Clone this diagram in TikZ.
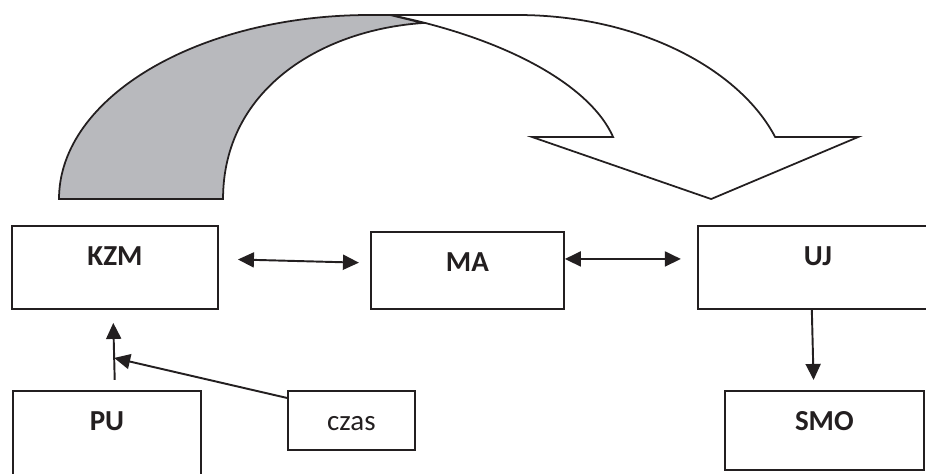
\documentclass[tikz,border=0pt]{standalone}
\usepackage{fontspec}
\setmainfont{Carlito}
\usetikzlibrary{positioning, arrows.meta, calc}
\definecolor{ribgray}{HTML}{B8B9BD}
\definecolor{inkblack}{HTML}{231F20}

\begin{document}
\begin{tikzpicture}[
          box/.style={draw=inkblack, line width=1.1pt, inner sep=0pt, text=inkblack, font=\fontsize{16.5}{19}\selectfont\bfseries, text height=0.8cm, anchor=north west},
          arr/.style={draw=inkblack, line width=1.1pt, -{Triangle[length=3.2mm, width=3mm]}},
          twoway/.style={arr, {Triangle[length=3.2mm, width=3mm]}-{Triangle[length=3.2mm, width=3mm]}}]
        \useasboundingbox (0,0) rectangle (18.52,-9.48);
        \clip (0,0) rectangle (18.52,-9.48);
        \node[box, minimum width=4.12cm, text depth=0.86cm] (kzm) at (0.22,-4.5) {KZM};
        \node[box, minimum width=3.86cm, text depth=0.74cm, right=3.02cm of kzm.north east, anchor=north west, yshift=-0.12cm] (ma) {MA};
        \node[box, minimum width=4.8cm, text depth=0.86cm, right=2.64cm of ma.north east, anchor=north west, yshift=0.12cm] (uj) {UJ};
        \node[box, minimum width=3.76cm, text depth=1.4cm, below=1.6cm of kzm.south west, anchor=north west, xshift=0.02cm] (pu) {PU};
        \node[box, minimum width=2.54cm, text depth=0.38cm, font=\fontsize{16.5}{19}\selectfont, right=1.7cm of pu.north east, anchor=north west] (czas) {czas};
        \node[box, minimum width=3.98cm, text depth=0.78cm, below=1.6cm of uj.south west, anchor=north west, xshift=0.54cm] (smo) {SMO};
        \draw[twoway, shorten <=0.38cm, shorten >=0.22cm] ([yshift=0.17cm]kzm.east) -- ([yshift=0.15cm]ma.west);
        \draw[twoway, shorten >=0.32cm] ([yshift=0.23cm]ma.east) -- ([yshift=0.17cm]uj.west);
        \draw[arr, shorten >=0.2cm] ([xshift=-0.12cm]uj.south) -- ([xshift=-0.21cm]smo.north);
        \draw[arr, shorten <=0.2cm, shorten >=0.26cm] ([xshift=0.16cm]pu.north) -- coordinate[pos=0.4] (join) ([xshift=-0.04cm]kzm.south);
        \draw[arr] ([yshift=-0.16cm]czas.north west) -- (join);
        \begin{scope}[x=0.02cm, y=0.02cm, line width=1pt, draw=inkblack]
          \draw[fill=white] (390,-15) -- (517,-15) .. controls (640,-15) and (740,-70) .. (775,-137) -- (858,-137) -- (711,-199) -- (532,-137) -- (613,-137) .. controls (590,-85) and (505,-38) .. (390,-15) -- cycle;
          \draw[fill=ribgray] (59,-199) arc[start angle=180, end angle=90, x radius=311, y radius=184] -- (390,-15) -- (423,-23) .. controls (320,-30) and (223,-90) .. (223,-199) -- cycle;
        \end{scope}
      \end{tikzpicture}
\end{document}
